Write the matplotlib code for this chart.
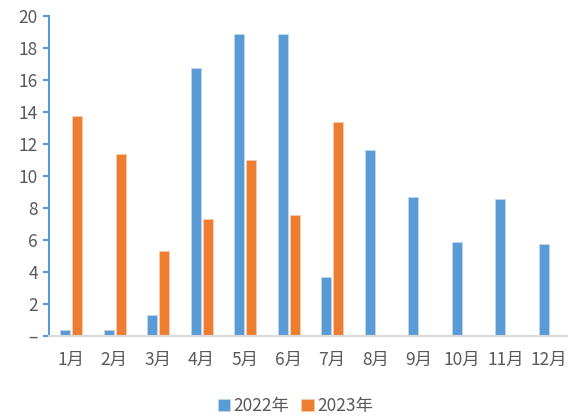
import matplotlib.pyplot as plt
from matplotlib.ticker import FuncFormatter

plt.rcParams['font.family'] = ['Noto Sans CJK SC', 'DejaVu Sans']

meses = ['1月', '2月', '3月', '4月', '5月', '6月', '7月', '8月', '9月', '10月', '11月', '12月']
valores_2022 = [0.4, 0.35, 1.3, 16.75, 18.9, 18.9, 3.7, 11.6, 8.7, 5.85, 8.55, 5.75]
valores_2023 = [13.75, 11.4, 5.3, 7.3, 11.0, 7.55, 13.4]

azul = '#5B9BD5'
laranja = '#ED7D31'
cinza = '#595959'

fig = plt.figure(figsize=(5.68, 4.16), dpi=100)
ax = fig.add_axes([49 / 568, 1 - 336 / 416, 1 - 49 / 568, 320 / 416])

x = list(range(len(meses)))
largura = 0.23
ax.bar([i - 0.13 for i in x], valores_2022, largura, color=azul,
       edgecolor='#BDD7EE', linewidth=0.6, label='2022年')
ax.bar([i + 0.145 for i in range(len(valores_2023))], valores_2023, largura,
       color=laranja, edgecolor='#F8CBAD', linewidth=0.6, label='2023年')

ax.set_xlim(-0.5, 11.43)
ax.set_ylim(0, 20)
ax.set_yticks(range(0, 21, 2))
ax.yaxis.set_major_formatter(FuncFormatter(lambda v, p: '–' if v == 0 else '%d' % v))
ax.set_xticks(x)
ax.set_xticklabels(meses)

# eixos no estilo do Excel
for lado in ['top', 'right']:
    ax.spines[lado].set_visible(False)
ax.spines['left'].set_color(azul)
ax.spines['left'].set_linewidth(1.5)
ax.spines['bottom'].set_color('#D9D9D9')
ax.spines['bottom'].set_linewidth(1.5)
ax.tick_params(axis='y', direction='out', length=4, width=1.5, color=azul,
               labelcolor=cinza, labelsize=12.5, pad=4)
ax.tick_params(axis='x', length=0, labelcolor=cinza, labelsize=12.5, pad=11)

fig.legend(loc='lower center', bbox_to_anchor=(0.52, -0.035), ncol=2, frameon=False,
           handlelength=0.7, handleheight=0.7, handletextpad=0.2, columnspacing=0.7,
           fontsize=12.5, labelcolor=cinza)

fig.savefig('out.png', dpi=100)
